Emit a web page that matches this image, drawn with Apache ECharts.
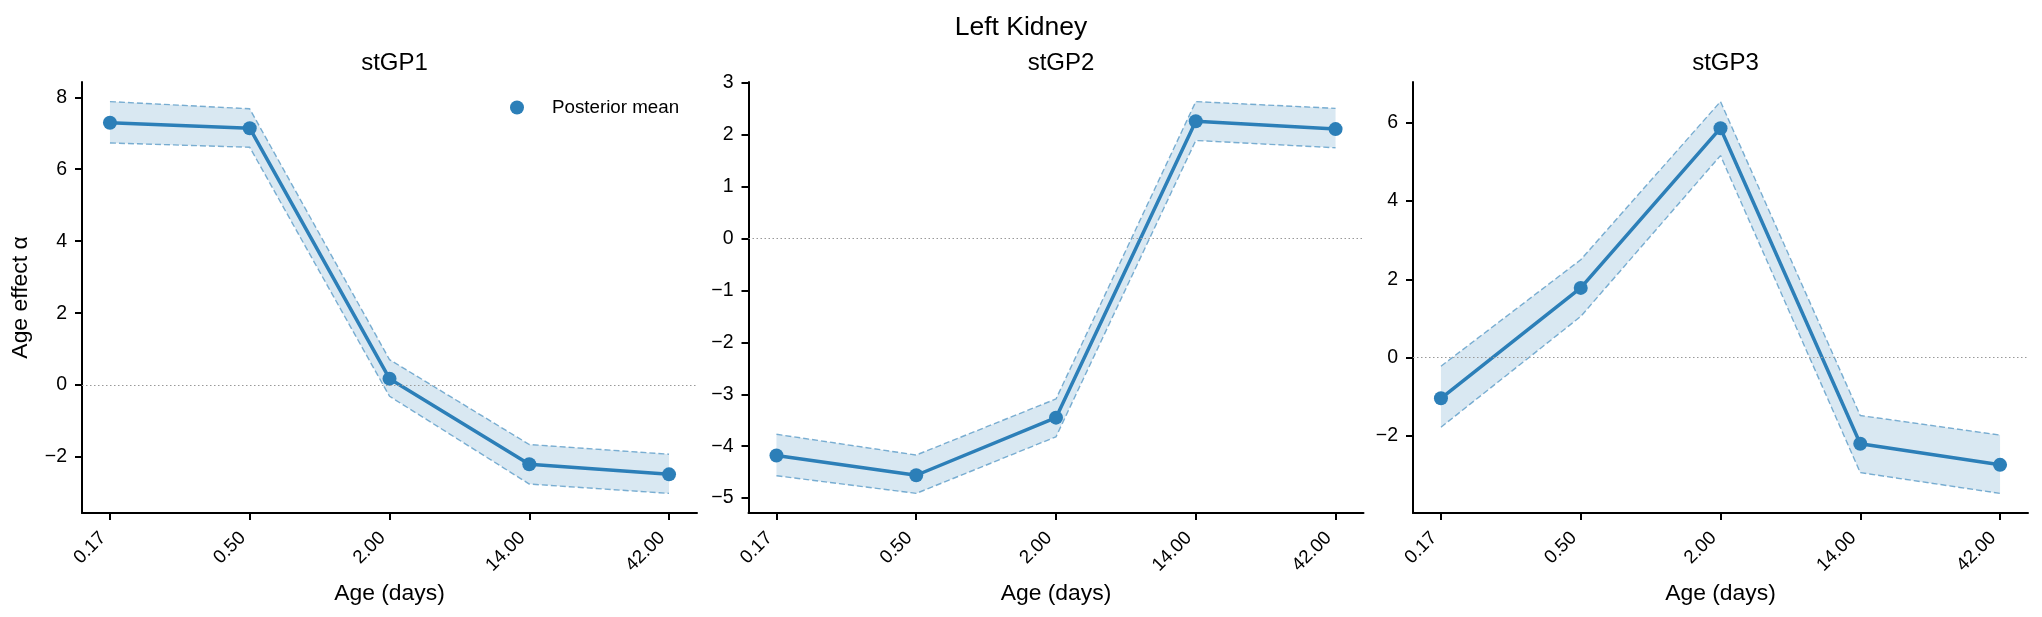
<!DOCTYPE html>
<html><head><meta charset="utf-8">
<script src="https://cdn.jsdelivr.net/npm/echarts@6/dist/echarts.min.js"></script>
<style>html,body{margin:0;padding:0;background:#fff}#c{width:2042px;height:617px}</style>
</head><body><div id="c"></div>
<script>
// ---------- data ----------
const suptitle = 'Left Kidney';
const panelTitles = ['stGP1', 'stGP2', 'stGP3'];
const ageLabels = ['0.17', '0.50', '2.00', '14.00', '42.00'];
const ageIndex = [0, 1, 2, 3, 4];

const mean1  = [7.29, 7.14, 0.18, -2.20, -2.48];
const upper1 = [7.88, 7.68, 0.71, -1.65, -1.92];
const lower1 = [6.73, 6.61, -0.31, -2.75, -3.01];

const mean2  = [-4.18, -4.56, -3.45, 2.26, 2.11];
const upper2 = [-3.77, -4.17, -3.09, 2.64, 2.51];
const lower2 = [-4.57, -4.91, -3.82, 1.89, 1.75];

const mean3  = [-1.04, 1.78, 5.86, -2.20, -2.74];
const upper3 = [-0.22, 2.50, 6.54, -1.48, -1.98];
const lower3 = [-1.78, 1.05, 5.16, -2.94, -3.47];

const yTicks1 = [-2, 0, 2, 4, 6, 8];
const yTicks2 = [-5, -4, -3, -2, -1, 0, 1, 2, 3];
const yTicks3 = [-2, 0, 2, 4, 6];

// ---------- build ----------
const FONT = "'Liberation Sans', Arial, Helvetica, sans-serif";
const C = '#2c7fb8';
const panels = [
  {mean: mean1, upper: upper1, lower: lower1, ticks: yTicks1},
  {mean: mean2, upper: upper2, lower: lower2, ticks: yTicks2},
  {mean: mean3, upper: upper3, lower: lower3, ticks: yTicks3}
];
const gridLefts = [82, 748.5, 1413];
const GW = 615, GTOP = 82, GH = 431;

const minus = v => String(v).replace('-', '\u2212');

const option = {
  animation: false,
  backgroundColor: '#fff',
  textStyle: {fontFamily: FONT},
  title: [{text: suptitle, left: 'center', top: 9,
           textStyle: {fontSize: 26.5, fontWeight: 'normal', color: '#000', fontFamily: FONT}}],
  legend: {data: ['Posterior mean'], left: 505, top: 93, icon: 'circle', itemWidth: 14, itemHeight: 14,
           textStyle: {fontSize: 18.75, color: '#000', fontFamily: FONT, padding: [0, 0, 0, 23]},
           selectedMode: false},
  grid: [], xAxis: [], yAxis: [], series: []
};

panels.forEach((p, k) => {
  const all = p.upper.concat(p.lower, p.mean);
  const dmin = Math.min(...all), dmax = Math.max(...all);
  const pad = (dmax - dmin) * 0.05;
  option.grid.push({left: gridLefts[k], top: GTOP, width: GW, height: GH, containLabel: false});
  option.title.push({text: panelTitles[k], left: gridLefts[k] + GW / 2, textAlign: 'center', top: 46.5,
                     textStyle: {fontSize: 24, fontWeight: 'normal', color: '#000', fontFamily: FONT}});
  option.xAxis.push({
    type: 'value', gridIndex: k, min: -0.2, max: 4.2,
    name: 'Age (days)', nameLocation: 'middle', nameGap: 65.5,
    nameTextStyle: {fontSize: 22.9, color: '#000', fontFamily: FONT},
    axisLine: {show: true, onZero: false, lineStyle: {color: '#000', width: 2}},
    axisTick: {show: true, length: 7, lineStyle: {color: '#000', width: 2}, customValues: ageIndex},
    axisLabel: {customValues: ageIndex, formatter: v => ageLabels[Math.round(v)], rotate: 45, margin: 15,
                fontSize: 18.75, color: '#000', fontFamily: FONT, padding: [0, 10, 0, 0]},
    splitLine: {show: false}
  });
  option.yAxis.push({
    type: 'value', gridIndex: k, min: dmin - pad, max: dmax + pad,
    name: k === 0 ? 'Age effect \u03b1' : '', nameLocation: 'middle', nameGap: 49.5, nameRotate: 90,
    nameTextStyle: {fontSize: 22.9, color: '#000', fontFamily: FONT},
    axisLine: {show: true, onZero: false, lineStyle: {color: '#000', width: 2}},
    axisTick: {show: true, length: 7, lineStyle: {color: '#000', width: 2}, customValues: p.ticks},
    axisLabel: {customValues: p.ticks, formatter: minus, margin: 15, fontSize: 19.5, color: '#000', fontFamily: FONT},
    splitLine: {show: false}
  });
  // credible band
  option.series.push({
    type: 'custom', xAxisIndex: k, yAxisIndex: k, silent: true, z: 1,
    data: [[0, p.mean[0]]],
    renderItem: (params, api) => {
      const pts = [];
      ageIndex.forEach(i => pts.push(api.coord([i, p.upper[i]])));
      ageIndex.slice().reverse().forEach(i => pts.push(api.coord([i, p.lower[i]])));
      return {type: 'polygon', shape: {points: pts}, style: {fill: 'rgba(44,127,184,0.18)', stroke: null}};
    }
  });
  [p.upper, p.lower].forEach(arr => option.series.push({
    type: 'line', xAxisIndex: k, yAxisIndex: k, silent: true, z: 2, symbol: 'none',
    data: ageIndex.map(i => [i, arr[i]]),
    lineStyle: {color: 'rgba(44,127,184,0.6)', width: 1.4, type: [6, 3]}
  }));
  option.series.push({
    name: 'Posterior mean', type: 'line', xAxisIndex: k, yAxisIndex: k, z: 3,
    data: ageIndex.map(i => [i, p.mean[i]]),
    symbol: 'circle', symbolSize: 14, itemStyle: {color: C},
    lineStyle: {color: C, width: 3.5},
    markLine: {silent: true, symbol: 'none', label: {show: false},
               lineStyle: {color: '#999', type: [1.5, 2.5], width: 1.2},
               data: [{yAxis: 0}]}
  });
});

const chart = echarts.init(document.getElementById('c'), null, {renderer: 'canvas'});
chart.setOption(option);
</script>
</body></html>
